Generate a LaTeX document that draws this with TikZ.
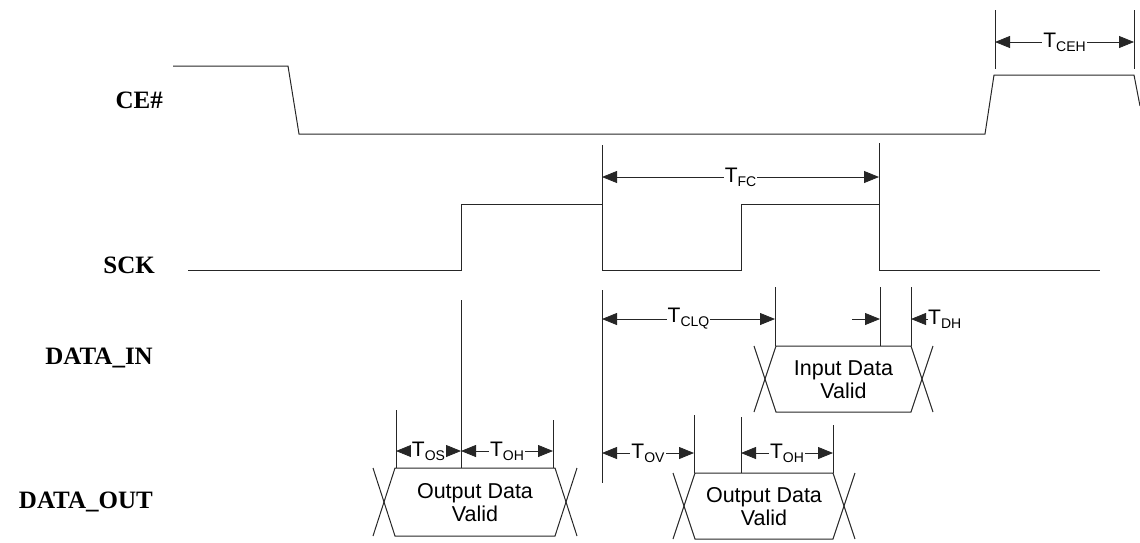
\documentclass[tikz,border=0pt]{standalone}
\usepackage{fontspec}
\setmainfont{Liberation Serif}
\newfontfamily\arialfont{Liberation Sans}
\usetikzlibrary{arrows.meta}
\newcommand\lowsub[1]{\raisebox{-0.35ex}{\fontsize{14}{14}\selectfont #1}}
\tikzset{
 wave/.style={line width=1pt, draw=black!85, line join=miter},
 ext/.style={line width=0.9pt, draw=black!85},
 tip/.style={-{Triangle[length=15pt,width=12pt]}},
 dimline/.style={line width=0.8pt, draw=black!85, {Triangle[length=15pt,width=12pt]}-{Triangle[length=15pt,width=12pt]}},
 dimlabel/.style={font=\arialfont\fontsize{21}{21}\selectfont, fill=white, inner sep=1pt},
 signame/.style={font=\bfseries\fontsize{25}{25}\selectfont, anchor=east, inner sep=0pt},
 boxtext/.style={font=\arialfont\fontsize{21.5}{23}\selectfont, align=center, inner sep=0pt},
}
\newcommand\dimarrow[5]{%
 \coordinate (#1-l) at (#2,#4);
 \coordinate (#1-r) at (#3,#4);
 \draw[dimline] (#1-l) -- (#1-r) node[midway, dimlabel] (#1) {T\lowsub{#5}};
}
\newcommand\databox[6]{%
 \draw[wave] (#2-11,#4) -- (#2+11,#5) -- (#3-11,#5) -- (#3+11,#4);
 \draw[wave] (#2-11,#5) -- (#2+11,#4) -- (#3-11,#4) -- (#3+11,#5);
 \node[boxtext] (#1) at ({(#2+#3)/2},{(#4+#5)/2+1}) {#6};
}
\begin{document}
\begin{tikzpicture}[x=1pt,y=-1pt]
\useasboundingbox (0,0) rectangle (1140,542);
% signal names
\node[signame] (ce) at (163,100) {CE\#};
\node[signame] (sck) at (155,265) {SCK};
\node[signame] (din) at (153,358) {DATA\_IN};
\node[signame] (dout) at (153,502) {DATA\_OUT};
% CE# waveform
\draw[wave] (173,66) -- (288,66) -- (299,134) -- (985,134) -- (994,75) -- (1134,75) -- (1140,106);
% SCK waveform
\draw[wave] (188,270) -- (461,270) -- (461,204) -- (602,204) -- (602,270) -- (741,270) -- (741,204) -- (879,204) -- (879,270) -- (1100,270);
% extension lines
\draw[ext] (995,10) -- (995,69);
\draw[ext] (1134,10) -- (1134,69);
\draw[ext] (602,145) -- (602,204);
\draw[ext] (879,143) -- (879,204);
\draw[ext] (461,300) -- (461,468);
\draw[ext] (602,290) -- (602,483);
\draw[ext] (775,287) -- (775,346);
\draw[ext] (880,287) -- (880,346);
\draw[ext] (911,287) -- (911,346);
\draw[ext] (396,410) -- (396,468);
\draw[ext] (553,420) -- (553,468);
\draw[ext] (694,415) -- (694,473);
\draw[ext] (741,417) -- (741,473);
\draw[ext] (833,425) -- (833,473);
% data boxes
\databox{inbox}{765}{922}{346}{412}{Input Data\\Valid}
\databox{outbox1}{384}{566}{468}{536}{Output Data\\Valid}
\databox{outbox2}{684}{844}{473}{539}{Output Data\\Valid}
% dimensions
\dimarrow{tceh}{995}{1134}{42}{CEH}
\dimarrow{tfc}{602}{879}{177}{FC}
\dimarrow{tclq}{602}{775}{319}{CLQ}
\dimarrow{tos}{396}{461}{451}{OS}
\dimarrow{toh1}{461}{553}{451}{OH}
\dimarrow{tov}{602}{694}{453}{OV}
\dimarrow{toh2}{741}{833}{453}{OH}
% T_DH
\coordinate (tdh-a) at (852,319);
\coordinate (tdh-b) at (880,319);
\coordinate (tdh-c) at (928,319);
\coordinate (tdh-d) at (911,319);
\draw[ext, line width=0.8pt, tip] (tdh-a) -- (tdh-b);
\draw[ext, line width=0.8pt, tip] (tdh-c) -- (tdh-d);
\node[dimlabel, anchor=west, inner sep=0pt, fill=none] (tdh) at (tdh-c) {T\lowsub{DH}};
\end{tikzpicture}
\end{document}
